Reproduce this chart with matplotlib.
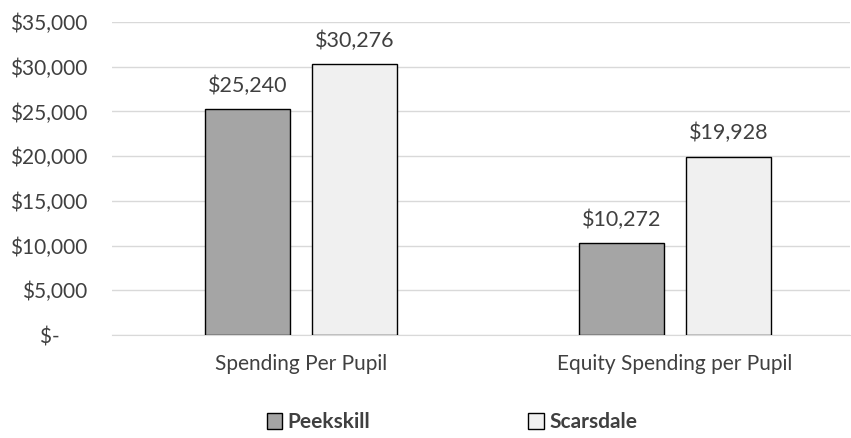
import matplotlib.pyplot as plt
import numpy as np
from matplotlib.ticker import FuncFormatter

categories = ['Spending Per Pupil', 'Equity Spending per Pupil']
peekskill = [25240, 10272]
scarsdale = [30276, 19928]
series_names = ['Peekskill', 'Scarsdale']

plt.rcParams['font.family'] = ['Lato', 'DejaVu Sans']
text_color = '#404040'

fig = plt.figure(figsize=(8.51, 4.38), dpi=100)
ax = fig.add_axes([112 / 851, 1 - 335 / 438, 738 / 851, 313 / 438])

x = np.arange(len(categories))
w = 0.227
off = 0.143
b1 = ax.bar(x - off, peekskill, w, color='#a5a5a5', edgecolor='black', linewidth=1.0,
            label=series_names[0], zorder=3)
b2 = ax.bar(x + off, scarsdale, w, color='#f0f0f0', edgecolor='black', linewidth=1.0,
            label=series_names[1], zorder=3)

for bars, vals in [(b1, peekskill), (b2, scarsdale)]:
    for bar, v in zip(bars, vals):
        ax.text(bar.get_x() + bar.get_width() / 2, v + 1500, f'${v:,}',
                ha='center', va='bottom', fontsize=15.5, color=text_color)

ax.set_xlim(-0.505, 1.468)
ax.set_ylim(0, 35000)
ax.set_yticks(np.arange(0, 35001, 5000))
ax.yaxis.set_major_formatter(FuncFormatter(lambda v, p: '$-     ' if v == 0 else f'${int(v):,}'))
ax.set_xticks(x)
ax.set_xticklabels(categories)
ax.tick_params(axis='both', length=0, labelsize=15, colors=text_color)
ax.tick_params(axis='x', pad=14)
ax.tick_params(axis='y', pad=18)
ax.grid(axis='y', color='#d9d9d9', linewidth=1.0, zorder=0)
for s in ['top', 'right', 'left']:
    ax.spines[s].set_visible(False)
ax.spines['bottom'].set_color('#d9d9d9')

leg = fig.legend(handles=[b1, b2], labels=series_names, loc='lower center',
                 bbox_to_anchor=(0.531, -0.03), ncol=2, frameon=False,
                 columnspacing=7.6, handlelength=0.75, handleheight=0.75, handletextpad=0.25,
                 prop={'weight': 'bold', 'size': 15})
for t in leg.get_texts():
    t.set_color(text_color)

fig.savefig('out.png', dpi=100)
